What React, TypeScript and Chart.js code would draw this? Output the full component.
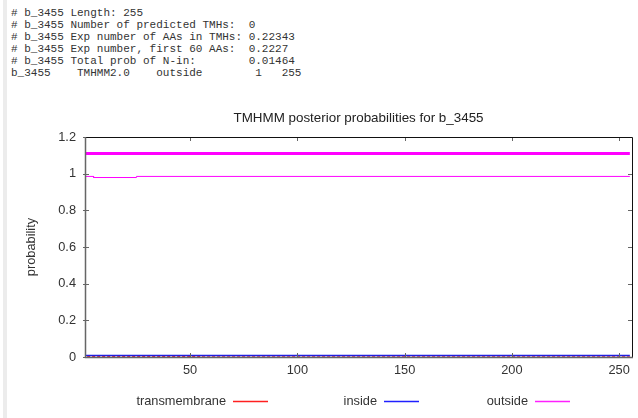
import React, { useEffect, useRef } from "react";
import { Chart, registerables } from "chart.js";

Chart.register(...registerables);

// ---- header text (TMHMM summary) ----
const headerLines = [
  "# b_3455 Length: 255",
  "# b_3455 Number of predicted TMHs:  0",
  "# b_3455 Exp number of AAs in TMHs: 0.22343",
  "# b_3455 Exp number, first 60 AAs:  0.2227",
  "# b_3455 Total prob of N-in:        0.01464",
  "b_3455    TMHMM2.0    outside        1   255",
];

// ---- chart data ----
const chartTitle = "TMHMM posterior probabilities for b_3455";
const yAxisTitle = "probability";
const xTicks = [50, 100, 150, 200, 250];
const yTicks = [0, 0.2, 0.4, 0.6, 0.8, 1, 1.2];
const yTickLabels = ["0", "0.2", "0.4", "0.6", "0.8", "1", "1.2"];

// predicted topology bar (outside, whole sequence)
const topologyX = [1, 255];
const topologyY = [1.11, 1.11];

// posterior probabilities per residue (step points)
const tmX = [2, 31, 55, 56, 255];
const tmY = [0.003, 0.003, 0.003, 0, 0];

const insideX = [1, 255];
const insideY = [0.008, 0.008];

const outsideX = [1, 5, 5, 25, 25, 255];
const outsideY = [0.985, 0.985, 0.979, 0.979, 0.985, 0.985];

const seriesLabels = ["transmembrane", "inside", "outside"];
const seriesColors = ["#ff2020", "#2020e0", "#ff00ff"];
const legendColors = ["#ff2020", "#2020ff", "#ff20ff"];

const zip = (xs: number[], ys: number[]) => xs.map((x, i) => ({ x, y: ys[i] }));

const FONT = "'Liberation Sans', Arial, sans-serif";

const titlePlugin = {
  id: "gnuTitle",
  afterDraw(chart: any) {
    const { ctx, chartArea } = chart;
    ctx.save();
    ctx.font = `13.4px ${FONT}`;
    ctx.fillStyle = "#222";
    ctx.textAlign = "center";
    ctx.textBaseline = "middle";
    ctx.fillText(chartTitle, (chartArea.left + chartArea.right) / 2, chartArea.top - 19);
    ctx.restore();
  },
};

const framePlugin = {
  id: "gnuFrame",
  afterDatasetsDraw(chart: any) {
    const { ctx, chartArea: a, scales } = chart;
    ctx.save();
    const tl = 4;
    ctx.lineWidth = 1;
    ctx.strokeStyle = "#666";
    ctx.beginPath();
    for (const v of yTicks) {
      const py = Math.round(scales.y.getPixelForValue(v)) + 0.5;
      ctx.moveTo(a.left - 2, py);
      ctx.lineTo(a.left + tl, py);
      ctx.moveTo(a.right, py);
      ctx.lineTo(a.right - tl, py);
    }
    for (const v of xTicks) {
      const px = Math.round(scales.x.getPixelForValue(v)) + 0.5;
      ctx.moveTo(px, a.bottom);
      ctx.lineTo(px, a.bottom - tl);
      ctx.moveTo(px, a.top);
      ctx.lineTo(px, a.top + tl);
    }
    ctx.stroke();
    // frame
    ctx.strokeStyle = "#111";
    ctx.beginPath();
    ctx.moveTo(Math.round(a.left) + 0.5, Math.round(a.top) + 0.5);
    ctx.lineTo(Math.round(a.right) + 0.5, Math.round(a.top) + 0.5);
    ctx.lineTo(Math.round(a.right) + 0.5, Math.round(a.bottom) + 0.5);
    ctx.stroke();
    ctx.strokeStyle = "#666";
    ctx.lineWidth = 1.5;
    ctx.beginPath();
    ctx.moveTo(Math.round(a.left) + 0.5, Math.round(a.top));
    ctx.lineTo(Math.round(a.left) + 0.5, Math.round(a.bottom) + 0.5);
    ctx.lineTo(Math.round(a.right) + 1, Math.round(a.bottom) + 0.5);
    ctx.stroke();
    ctx.restore();
  },
};

const legendPlugin = {
  id: "gnuLegend",
  afterDraw(chart: any) {
    const { ctx } = chart;
    const lineStarts = [233, 384, 535];
    const y = 401.5;
    ctx.save();
    ctx.font = `12.8px ${FONT}`;
    ctx.textAlign = "right";
    ctx.textBaseline = "middle";
    seriesLabels.forEach((label, i) => {
      const x0 = lineStarts[i];
      ctx.fillStyle = "#333";
      ctx.fillText(label, x0 - 7, y - 0.5);
      ctx.strokeStyle = legendColors[i];
      ctx.lineWidth = 1.5;
      ctx.beginPath();
      ctx.moveTo(x0, y);
      ctx.lineTo(x0 + 35, y);
      ctx.stroke();
    });
    ctx.restore();
  },
};

export default function App() {
  const ref = useRef<HTMLCanvasElement>(null);

  useEffect(() => {
    if (!ref.current) return;
    const chart = new Chart(ref.current, {
      type: "line",
      data: {
        datasets: [
          {
            label: "topology",
            data: zip(topologyX, topologyY),
            borderColor: seriesColors[2],
            borderWidth: 3,
            pointRadius: 0,
          },
          {
            label: seriesLabels[1],
            data: zip(insideX, insideY),
            borderColor: seriesColors[1],
            borderWidth: 1.5,
            pointRadius: 0,
          },
          {
            label: seriesLabels[0],
            data: zip(tmX, tmY),
            borderColor: seriesColors[0],
            borderWidth: 1.5,
            borderDash: [3, 2],
            pointRadius: 0,
          },
          {
            label: seriesLabels[2],
            data: zip(outsideX, outsideY),
            borderColor: seriesColors[2],
            borderWidth: 1,
            pointRadius: 0,
          },
        ],
      },
      options: {
        animation: false,
        responsive: false,
        maintainAspectRatio: false,
        events: [],
        layout: { padding: { left: 10, top: 137, right: 6, bottom: 31 } },
        elements: { line: { tension: 0 } },
        plugins: {
          legend: { display: false },
          title: { display: false },
          tooltip: { enabled: false },
        },
        scales: {
          x: {
            type: "linear",
            min: 1,
            max: 256,
            afterBuildTicks: (s: any) => {
              s.ticks = xTicks.map((v) => ({ value: v }));
            },
            afterFit: (s: any) => {
              s.height = 30;
            },
            grid: { display: false, drawTicks: false },
            border: { display: false },
            ticks: {
              padding: 6,
              color: "#333",
              font: { family: FONT, size: 12.8 },
              maxRotation: 0,
              autoSkip: false,
            },
          },
          y: {
            type: "linear",
            min: 0,
            max: 1.2,
            afterBuildTicks: (s: any) => {
              s.ticks = yTicks.map((v) => ({ value: v }));
            },
            afterFit: (s: any) => {
              s.width = 75;
            },
            grid: { display: false, drawTicks: false },
            border: { display: false },
            ticks: {
              padding: 9,
              color: "#333",
              font: { family: FONT, size: 12.8 },
              autoSkip: false,
              callback: (v: any) => {
                const i = yTicks.findIndex((t) => Math.abs(t - Number(v)) < 1e-9);
                return i >= 0 ? yTickLabels[i] : "";
              },
            },
            title: {
              display: true,
              text: yAxisTitle,
              color: "#333",
              font: { family: FONT, size: 12.8 },
              padding: { top: 14, bottom: 0 },
            },
          },
        },
      },
      plugins: [framePlugin, titlePlugin, legendPlugin],
    });
    return () => chart.destroy();
  }, []);

  return (
    <div
      style={{
        position: "fixed",
        left: 0,
        top: 0,
        width: 638,
        height: 418,
        background: "#fff",
        overflow: "hidden",
      }}
    >
      <div
        style={{
          position: "absolute",
          left: 3,
          top: 0,
          width: 4,
          height: 418,
          background: "#ececec",
        }}
      />
      <pre
        style={{
          position: "absolute",
          left: 11,
          top: 7,
          margin: 0,
          fontFamily: "'Liberation Mono', 'DejaVu Sans Mono', monospace",
          fontSize: "11px",
          lineHeight: "12px",
          color: "#333",
        }}
      >
        {headerLines.join("\n")}
      </pre>
      <canvas
        ref={ref}
        width={638}
        height={418}
        style={{ position: "absolute", left: 0, top: 0, display: "block" }}
      />
    </div>
  );
}
